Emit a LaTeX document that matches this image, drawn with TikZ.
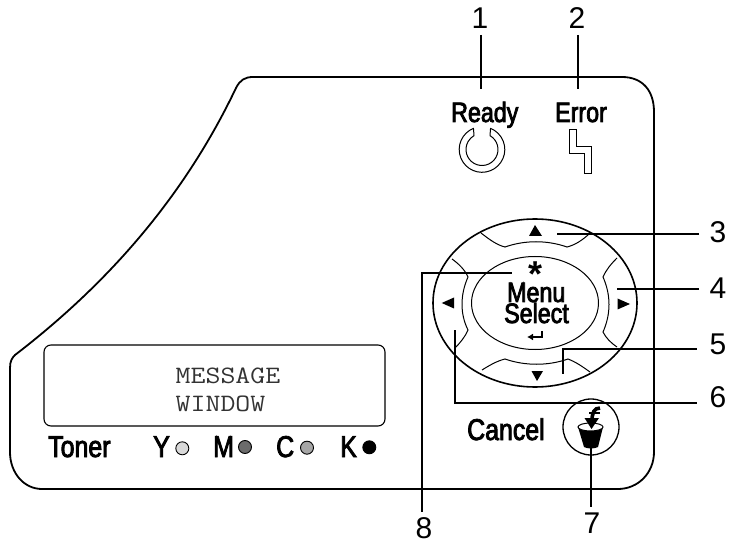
\documentclass[tikz,border=0pt]{standalone}
\usepackage{fontspec}
\usetikzlibrary{shapes.geometric,arrows.meta}
\setmainfont{Liberation Sans}
\newfontfamily\panelfont[FakeStretch=0.83,FakeBold=2.8]{Liberation Sans}
\newfontfamily\dispfont[FakeStretch=1.16]{Latin Modern Mono}
\tikzset{
  panelline/.style={line width=1.8pt,black,line join=round},
  thinline/.style={line width=1pt,black},
  leader/.style={line width=1.7pt,black},
  numlabel/.style={inner sep=0pt,anchor=base,font=\fontsize{30}{30}\selectfont},
  paneltext/.style={inner sep=0pt,anchor=base west,font=\panelfont\fontsize{28}{28}\selectfont},
  bigtext/.style={inner sep=0pt,anchor=base west,font=\panelfont\fontsize{30}{30}\selectfont},
  disptext/.style={inner sep=0pt,anchor=base west,text=black!80,font=\dispfont\fontsize{25}{25}\selectfont},
  lamp/.style={circle,draw=black,line width=0.9pt,minimum size=13pt,inner sep=0pt},
  tri/.style={fill=black,draw=none}
}
\begin{document}
\begin{tikzpicture}[x=1pt,y=-1pt]
\useasboundingbox (0,0) rectangle (731,545);
% panel outline
\draw[panelline] (15,355) .. controls (110,282) and (185,195) .. (236,88)
  .. controls (240,80) and (245,77) .. (253,77) -- (622,77)
  .. controls (642,77) and (654,90) .. (654,112) -- (654,452)
  .. controls (654,473) and (638,489) .. (618,489) -- (42,489)
  .. controls (24,489) and (10,473) .. (10,452) -- (10,368)
  .. controls (10,361) and (12,358) .. (15,355) -- cycle;
% message window
\node[draw=black,line width=1.1pt,rounded corners=7pt,minimum width=341pt,minimum height=81pt,inner sep=0pt] (win) at (214.5,385.5) {};
\node[disptext] (msg1) at (175.5,383) {MESSAGE};
\node[disptext] (msg2) at (175.5,411) {WINDOW};
% toner row
\node[bigtext] (toner) at (48,457) {Toner};
\node[bigtext] (ty) at (153,457) {Y};
\node[bigtext] (tm) at (213,457) {M};
\node[bigtext] (tc) at (276,457) {C};
\node[bigtext] (tk) at (340,457) {K};
\node[lamp,fill=black!15] (ly) at (182.3,448.3) {};
\node[lamp,fill=black!58] (lm) at (245,447) {};
\node[lamp,fill=black!35] (lc) at (307,447.7) {};
\node[lamp,fill=black] (lk) at (369.3,447.3) {};
% ready and error
\node[paneltext] (ready) at (451,122) {Ready};
\node[paneltext] (error) at (555,122) {Error};
\draw[thinline,line join=round] ({482+22.8*cos(112)},{149.5-22.8*sin(112)}) arc[start angle=-112,end angle=-428,radius=22.8]
  -- ({482+16*cos(60)},{149.5-16*sin(60)}) arc[start angle=-60,end angle=240,radius=16] -- cycle;
\draw[thinline,line join=miter] (569.3,129.3) -- (576.7,129.3) -- (576.7,146.7) -- (591,146.7) -- (591,173.3) -- (584,173.3) -- (584,154) -- (569.3,154) -- cycle;
% control pad
\node[draw=black,line width=1.6pt,ellipse,minimum width=204pt,minimum height=168pt,inner sep=0pt] (pad) at (535,303) {};
\node[draw=black,line width=1pt,ellipse,minimum width=127pt,minimum height=93pt,inner sep=0pt] (sel) at (535,303) {};
\draw[thinline] (481,233) .. controls (490,240) and (497,245) .. (505,247) .. controls (525,240) and (547,240) .. (567,247) .. controls (575,245) and (583,240) .. (590,233);
\draw[thinline] (482,370) .. controls (490,365) and (497,361) .. (505,359) .. controls (525,366) and (548,366) .. (568,359) .. controls (576,362) and (583,367) .. (590,372);
\draw[thinline] (617,258) .. controls (611,264) and (606,270) .. (603,277) .. controls (611,295) and (611,314) .. (603,332) .. controls (606,338) and (611,343) .. (617,347);
\draw[thinline] (452,259) .. controls (459,264) and (465,270) .. (468,277) .. controls (460,295) and (460,314) .. (468,330) .. controls (465,337) and (460,343) .. (455,348);
\fill[tri] (535,225) -- (529,236) -- (542,236) -- cycle;
\fill[tri] (537,381) -- (531.5,371) -- (543,371) -- cycle;
\fill[tri] (441.7,303) -- (454,297.5) -- (454,308.5) -- cycle;
\fill[tri] (630,304) -- (617.5,298.5) -- (617.5,309.5) -- cycle;
% select button
\node[inner sep=0pt,anchor=base,font=\bfseries\fontsize{36}{36}\selectfont] (star) at (535.7,287) {*};
\node[paneltext] (menu) at (507,302) {Menu};
\node[paneltext] (select) at (504,323) {Select};
\draw[line width=1.9pt,-{Latex[length=6pt,width=7pt]}] (542,331) -- (542,337) -- (527,337);
% cancel
\node[bigtext] (cancel) at (467,440) {Cancel};
\node[draw=black,line width=1.3pt,circle,minimum size=56pt,inner sep=0pt] (cbtn) at (591,427) {};
\fill[black] (578,427) -- (603,427) -- (598,447) .. controls (594,449) and (588,449) .. (584,447) -- cycle;
\draw[line width=1pt,fill=white] (590.5,427) ellipse[x radius=12.5,y radius=4];
\draw[line width=3.6pt] (600,408) .. controls (594,408) and (592,413) .. (592,421);
\fill[black] (584.5,418) -- (599,418) -- (591.5,429) -- cycle;
\draw[line width=2pt] (600,413) -- (589,413);
% numbers
\node[numlabel] (n1) at (480,29) {1};
\node[numlabel] (n2) at (577,29) {2};
\node[numlabel] (n3) at (718,243) {3};
\node[numlabel] (n4) at (718,299) {4};
\node[numlabel] (n5) at (718,354) {5};
\node[numlabel] (n6) at (718,407) {6};
\node[numlabel] (n7) at (592,533) {7};
\node[numlabel] (n8) at (424,538) {8};
% leader anchors
\coordinate (a1) at (480.7,35); \coordinate (b1) at (480.7,89);
\coordinate (a2) at (577.7,35); \coordinate (b2) at (577.7,89);
\coordinate (a3) at (699,233.7); \coordinate (b3) at (556.7,233.7);
\coordinate (a4) at (699,289.3); \coordinate (b4) at (616.7,289.3);
\coordinate (a5) at (696.7,349); \coordinate (b5) at (562.7,374.3);
\coordinate (a6) at (696.7,403.3); \coordinate (b6) at (455,330);
\coordinate (a7) at (591,506.7); \coordinate (b7) at (591,446.7);
\coordinate (a8) at (422.3,511.7); \coordinate (b8) at (511.7,272.7);
\draw[leader] (a1) -- (b1);
\draw[leader] (a2) -- (b2);
\draw[leader] (a3) -- (b3);
\draw[leader] (a4) -- (b4);
\draw[leader] (a5) -| (b5);
\draw[leader] (a6) -| (b6);
\draw[leader] (a7) -- (b7);
\draw[leader] (a8) |- (b8);
\end{tikzpicture}
\end{document}
